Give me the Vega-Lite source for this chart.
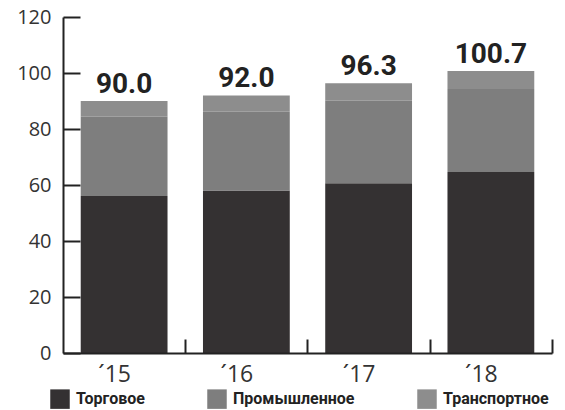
{
  "$schema": "https://vega.github.io/schema/vega-lite/v6.json",
  "width": 489,
  "height": 336,
  "autosize": "none",
  "padding": {"left": 63, "top": 17, "right": 13, "bottom": 57},
  "background": "#ffffff",
  "config": {
    "view": {"stroke": null},
    "font": "Open Sans"
  },
  "datasets": {
    "parts": [
      {"year": "´15", "sector": "Торговое", "rank": 1, "value": 56.1},
      {"year": "´15", "sector": "Промышленное", "rank": 2, "value": 28.3},
      {"year": "´15", "sector": "Транспортное", "rank": 3, "value": 5.6},
      {"year": "´16", "sector": "Торговое", "rank": 1, "value": 58.0},
      {"year": "´16", "sector": "Промышленное", "rank": 2, "value": 28.2},
      {"year": "´16", "sector": "Транспортное", "rank": 3, "value": 5.8},
      {"year": "´17", "sector": "Торговое", "rank": 1, "value": 60.6},
      {"year": "´17", "sector": "Промышленное", "rank": 2, "value": 29.5},
      {"year": "´17", "sector": "Транспортное", "rank": 3, "value": 6.2},
      {"year": "´18", "sector": "Торговое", "rank": 1, "value": 64.6},
      {"year": "´18", "sector": "Промышленное", "rank": 2, "value": 29.7},
      {"year": "´18", "sector": "Транспортное", "rank": 3, "value": 6.4}
    ],
    "totals": [
      {"year": "´15", "total": 90.0, "label": "90.0"},
      {"year": "´16", "total": 92.0, "label": "92.0"},
      {"year": "´17", "total": 96.3, "label": "96.3"},
      {"year": "´18", "total": 100.7, "label": "100.7"}
    ]
  },
  "layer": [
    {
      "data": {"name": "parts"},
      "mark": {"type": "bar"},
      "encoding": {
        "x": {
          "field": "year", "type": "nominal", "sort": null,
          "scale": {"paddingInner": 0.29, "paddingOuter": 0.145},
          "axis": {
            "title": null, "labelAngle": 0, "zindex": 1,
            "tickSize": -14, "tickOffset": 61, "labelOffset": -71, "labelPadding": 24,
            "domainColor": "#222222", "domainWidth": 2, "tickColor": "#222222", "tickWidth": 2,
            "labelFont": "Open Sans", "labelFontSize": 23, "labelColor": "#333333"
          }
        },
        "y": {
          "field": "value", "type": "quantitative", "stack": "zero",
          "scale": {"domain": [0, 120], "nice": false},
          "axis": {
            "title": null, "values": [0, 20, 40, 60, 80, 100, 120], "grid": false, "zindex": 1,
            "tickSize": -17, "labelPadding": 29,
            "domainColor": "#222222", "domainWidth": 2, "tickColor": "#222222", "tickWidth": 2,
            "labelFont": "Open Sans", "labelFontSize": 20, "labelColor": "#333333"
          }
        },
        "color": {
          "field": "sector", "type": "nominal",
          "scale": {
            "domain": ["Торговое", "Промышленное", "Транспортное"],
            "range": ["#343132", "#7e7e7e", "#8d8d8d"]
          },
          "legend": {
            "title": null, "orient": "none", "legendX": -13, "legendY": 372,
            "direction": "horizontal", "symbolType": "square", "symbolSize": 380,
            "symbolStrokeWidth": 0, "columnPadding": 62, "labelOffset": 6,
            "labelFont": "Roboto", "labelFontWeight": "bold",
            "labelFontSize": 16, "labelColor": "#222222"
          }
        },
        "order": {"field": "rank", "type": "quantitative", "sort": "ascending"}
      }
    },
    {
      "data": {"name": "totals"},
      "mark": {
        "type": "text", "baseline": "alphabetic", "dy": -8,
        "font": "Roboto", "fontWeight": "bold", "fontSize": 28, "color": "#222222"
      },
      "encoding": {
        "x": {"field": "year", "type": "nominal", "sort": null},
        "y": {"field": "total", "type": "quantitative"},
        "text": {"field": "label"}
      }
    }
  ]
}
